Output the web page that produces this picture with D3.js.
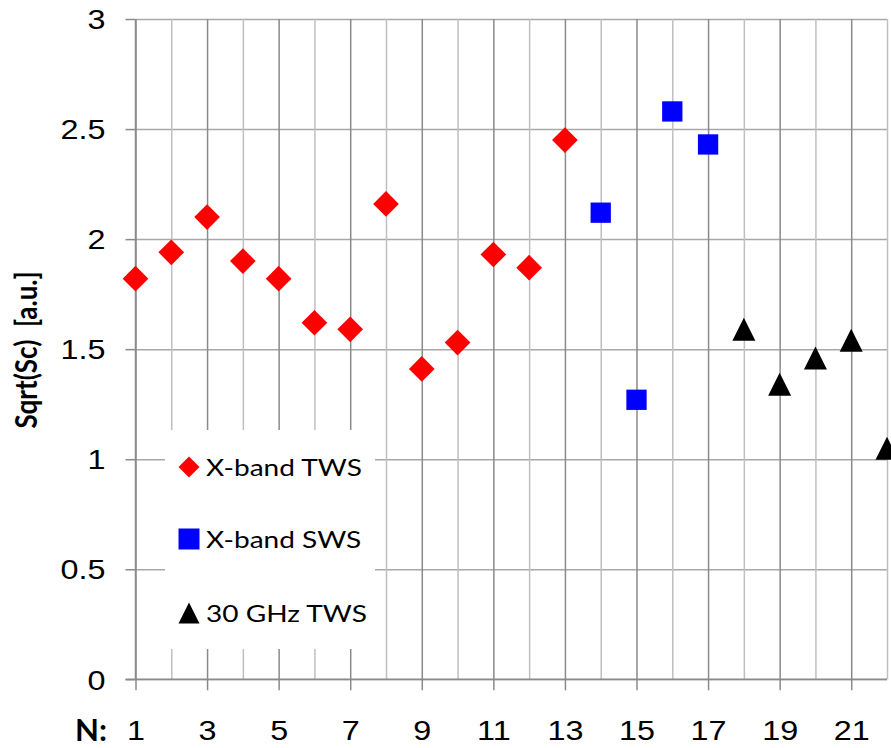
<!DOCTYPE html>
<html>
<head>
<meta charset="utf-8">
<script src="https://cdn.jsdelivr.net/npm/d3@7"></script>
<style>
  html, body { margin: 0; padding: 0; background: #fff; }
  svg { display: block; font-family: Lato, "Open Sans", sans-serif; }
  text { white-space: pre; }
</style>
</head>
<body>
<svg id="chart" width="891" height="748"></svg>
<script>
// Structure number N along the x axis, Sqrt(Sc) on the y axis
const twsN   = [1, 2, 3, 4, 5, 6, 7, 8, 9, 10, 11, 12, 13];
const twsVal = [1.82, 1.94, 2.10, 1.90, 1.82, 1.62, 1.59, 2.16, 1.41, 1.53, 1.93, 1.87, 2.45];

const swsN   = [14, 15, 16, 17];
const swsVal = [2.12, 1.27, 2.58, 2.43];

const ghzN   = [18, 19, 20, 21, 22];
const ghzVal = [1.59, 1.34, 1.46, 1.54, 1.05];

const seriesNames = ["X-band TWS", "X-band SWS", "30 GHz TWS"];
const yTickValues = [0, 0.5, 1, 1.5, 2, 2.5, 3];
const xTickValues = [1, 3, 5, 7, 9, 11, 13, 15, 17, 19, 21];
const xGridValues = d3.range(1, 23);

const svg = d3.select("#chart");
const plotLeft = 135.5, plotRight = 887, plotTop = 19, plotBottom = 679.3;

const x = d3.scaleLinear().domain([1, 22]).range([plotLeft, plotRight]);
const y = d3.scaleLinear().domain([0, 3]).range([plotBottom, plotTop]);

const majorGrey = "#8a8a8a", minorGrey = "#bfbfbf", hGrey = "#a8a8a8";

// text in this chart is set wide: horizontal scale that brings a sample string to a given width
function widen(node, width) {
  return width / node.getBBox().width;
}

// horizontal gridlines
const hGrid = svg.append("g").attr("transform", `translate(${plotLeft},0)`)
  .call(d3.axisLeft(y).tickValues(yTickValues).tickSize(-(plotRight - plotLeft)).tickFormat(""));
hGrid.select(".domain").remove();
hGrid.selectAll(".tick line").attr("stroke", hGrey).attr("stroke-width", 1.5);

// vertical gridlines: odd N darker, even N lighter
const vGrid = svg.append("g").attr("transform", `translate(0,${plotBottom})`)
  .call(d3.axisBottom(x).tickValues(xGridValues).tickSize(-(plotBottom - plotTop)).tickFormat(""));
vGrid.select(".domain").remove();
vGrid.selectAll(".tick line")
  .attr("stroke", d => d % 2 === 1 ? majorGrey : minorGrey)
  .attr("stroke-width", 1.5);

// legend panel sits over the gridlines
const legend = svg.append("g");
legend.append("rect").attr("x", 165).attr("y", 430).attr("width", 210).attr("height", 219).attr("fill", "#fff");

// y axis
const yAxis = svg.append("g").attr("transform", `translate(${plotLeft},0)`)
  .call(d3.axisLeft(y).tickValues(yTickValues).tickSize(10).tickPadding(0).tickFormat(d3.format("")));
yAxis.select(".domain").attr("stroke", majorGrey).attr("stroke-width", 1.5).attr("d", `M0,${plotTop}V${plotBottom}`);
yAxis.selectAll(".tick line").attr("stroke", majorGrey).attr("stroke-width", 1.5);
const yLabels = yAxis.selectAll(".tick text")
  .attr("dy", "0.36em").attr("font-size", 27).attr("fill", "#000");

// x axis
const xAxis = svg.append("g").attr("transform", `translate(0,${plotBottom})`)
  .call(d3.axisBottom(x).tickValues(xTickValues).tickSize(11).tickPadding(0).tickFormat(d3.format("")));
xAxis.select(".domain").attr("stroke", majorGrey).attr("stroke-width", 1.5).attr("d", `M${plotLeft - 10},0H${plotRight}`);
xAxis.selectAll(".tick line").attr("stroke", majorGrey).attr("stroke-width", 1.5);
const xLabels = xAxis.selectAll(".tick text")
  .attr("y", 60.5).attr("dy", 0).attr("font-size", 27).attr("fill", "#000");

// tick label width
const tickScale = widen(xLabels.filter(d => d === 15).node(), 36);
xLabels.attr("transform", `scale(${tickScale},1)`);
yLabels.attr("x", -30 / tickScale).attr("transform", `scale(${tickScale},1)`);

// axis titles
const nTitle = svg.append("text")
  .attr("font-size", 31).attr("font-weight", "bold").text("N:");
const nScale = widen(nTitle.node(), 32);
nTitle.attr("transform", `translate(75,741) scale(${nScale},1)`);

const yTitle = svg.append("text")
  .attr("text-anchor", "middle")
  .attr("font-size", 26).attr("font-weight", "bold").text("Sqrt(Sc)  [a.u.]");
yTitle.attr("transform", `translate(37,350) scale(1.15,1) rotate(-90)`);

// marker shapes
const rotatedSquare = { draw(ctx, size) { const r = Math.sqrt(size / 2);
  ctx.moveTo(0, -r); ctx.lineTo(r, 0); ctx.lineTo(0, r); ctx.lineTo(-r, 0); ctx.closePath(); } };
const boxTriangle = { draw(ctx, size) { const h = Math.sqrt(size) / 2;
  ctx.moveTo(0, -h); ctx.lineTo(h, h); ctx.lineTo(-h, h); ctx.closePath(); } };

const series = [
  { name: seriesNames[0], xs: twsN, ys: twsVal, type: rotatedSquare, size: 25.7 * 25.7 / 2, legendSize: 21 * 21 / 2, color: "#ff0000" },
  { name: seriesNames[1], xs: swsN, ys: swsVal, type: d3.symbolSquare, size: 20.3 * 20.3, legendSize: 21 * 21, color: "#0000ff" },
  { name: seriesNames[2], xs: ghzN, ys: ghzVal, type: boxTriangle, size: 23 * 23, legendSize: 21 * 21, color: "#000000" }
];

series.forEach(s => {
  svg.append("g").selectAll("path")
    .data(s.xs.map((n, i) => [n, s.ys[i]]))
    .join("path")
    .attr("transform", d => `translate(${x(d[0])},${y(d[1])})`)
    .attr("d", d3.symbol().type(s.type).size(s.size))
    .attr("fill", s.color);
});

// legend entries
const rowY = [467, 539, 613];
const legendTexts = [];
series.forEach((s, i) => {
  legend.append("path")
    .attr("transform", `translate(189,${rowY[i]})`)
    .attr("d", d3.symbol().type(s.type).size(s.legendSize))
    .attr("fill", s.color);
  legendTexts.push(legend.append("text")
    .attr("font-size", 22.5).attr("fill", "#000").text(s.name));
});
const legendScale = widen(legendTexts[0].node(), 156);
legendTexts.forEach((t, i) =>
  t.attr("transform", `translate(206,${rowY[i] + 8.5}) scale(${legendScale},1)`));
</script>
</body>
</html>
